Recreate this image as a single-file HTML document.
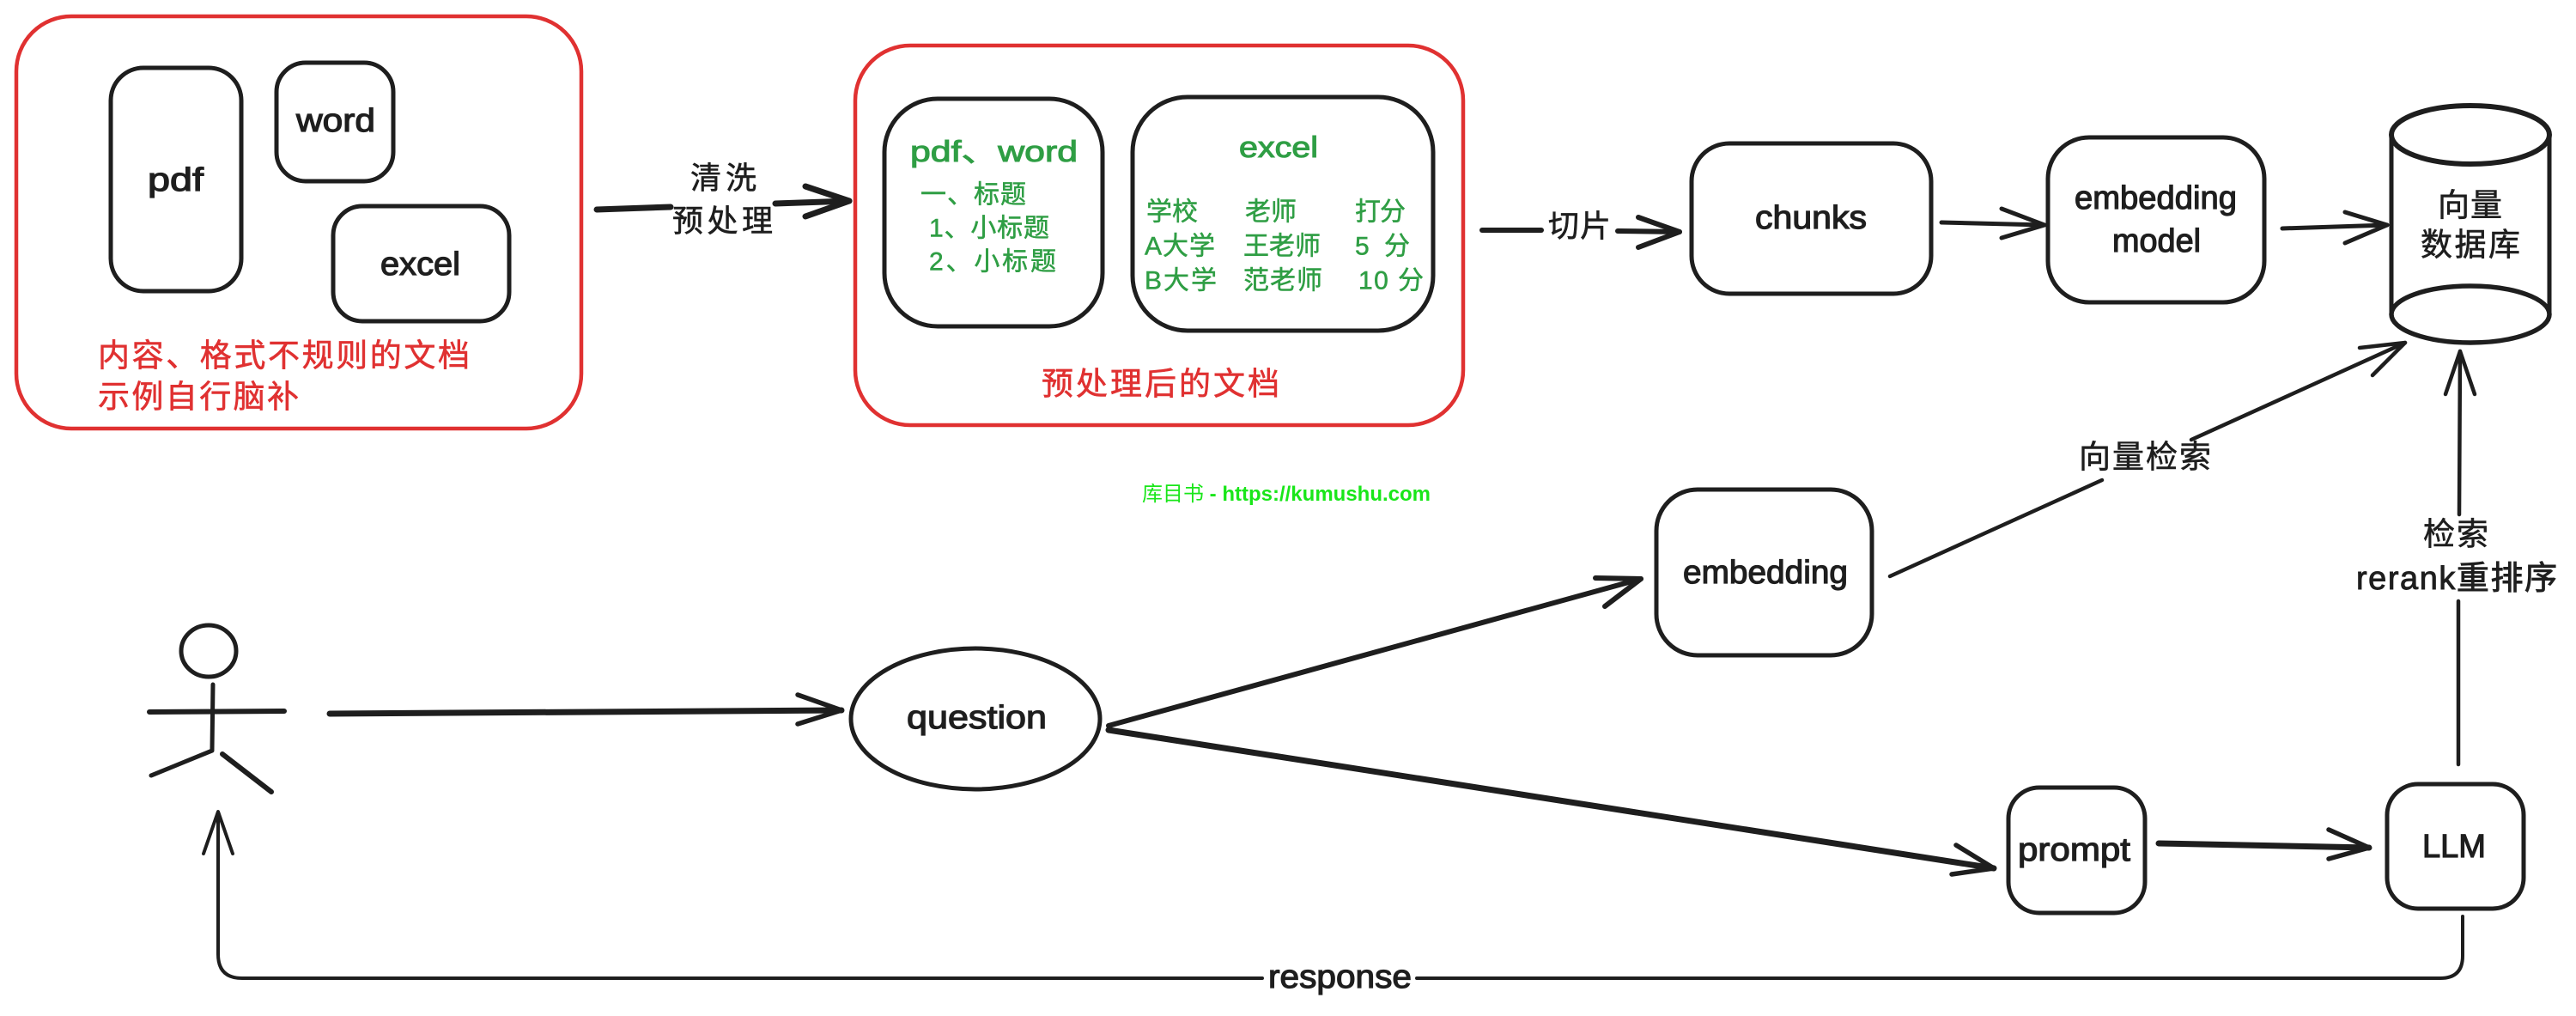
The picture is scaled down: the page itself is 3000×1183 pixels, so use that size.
<!DOCTYPE html>
<html><head><meta charset="utf-8">
<style>
html,body{margin:0;padding:0;background:#fff;}
svg{display:block;}
.lat{font-family:"Liberation Sans","Noto Sans CJK SC",sans-serif;}
.cjk{font-family:"Liberation Sans","Noto Sans CJK SC",sans-serif;}
</style></head>
<body>
<svg width="3000" height="1183" viewBox="0 0 3000 1183" xmlns="http://www.w3.org/2000/svg">
<rect x="0" y="0" width="3000" height="1183" fill="#ffffff"/>

<!-- LEFT RED GROUP -->
<rect x="19" y="19" width="658" height="480" rx="64" fill="none" stroke="#e03131" stroke-width="4.5"/>
<g fill="none" stroke="#1e1e1e" stroke-width="5" stroke-linecap="round" stroke-linejoin="round">
  <rect x="129" y="79" width="152" height="260" rx="38"/>
  <rect x="322" y="73" width="136" height="138" rx="34"/>
  <rect x="388" y="240" width="205" height="134" rx="34"/>
</g>
<g class="lat" fill="#1e1e1e" stroke="#1e1e1e" stroke-width="1.2" font-size="38">
  <text x="172" y="222" textLength="65" lengthAdjust="spacingAndGlyphs">pdf</text>
  <text x="345" y="153" textLength="92" lengthAdjust="spacingAndGlyphs">word</text>
  <text x="443" y="320" textLength="93" lengthAdjust="spacingAndGlyphs">excel</text>
</g>
<g class="cjk" fill="#e03131" stroke="#e03131" stroke-width="0.6" font-size="37" dominant-baseline="central">
  <text x="114" y="414" textLength="433">内容、格式不规则的文档</text>
  <text x="114" y="462" textLength="234">示例自行脑补</text>
</g>

<!-- 清洗 arrow -->
<g fill="none" stroke="#1e1e1e" stroke-width="7" stroke-linecap="round" stroke-linejoin="round">
  <path d="M695 244 L781 241"/>
  <path d="M903 237 L989 234"/>
  <path d="M938 217 L989 234 L938 252"/>
</g>
<g class="cjk" fill="#1e1e1e" stroke="#1e1e1e" stroke-width="0.6" font-size="36" dominant-baseline="central">
  <text x="804" y="207" textLength="77">清洗</text>
  <text x="783" y="257" textLength="117">预处理</text>
</g>

<!-- MIDDLE RED GROUP -->
<rect x="996" y="53" width="708" height="442" rx="64" fill="none" stroke="#e03131" stroke-width="4.5"/>
<g fill="none" stroke="#1e1e1e" stroke-width="5" stroke-linecap="round" stroke-linejoin="round">
  <rect x="1030" y="115" width="254" height="265" rx="62"/>
  <rect x="1319" y="113" width="350" height="272" rx="64"/>
</g>
<g class="lat" fill="#2f9e44" stroke="#2f9e44" stroke-width="1" font-size="34">
  <text x="1060" y="188" textLength="195" lengthAdjust="spacingAndGlyphs">pdf、word</text>
  <text x="1443" y="183" textLength="92" lengthAdjust="spacingAndGlyphs">excel</text>
</g>
<g class="cjk" fill="#2f9e44" stroke="#2f9e44" stroke-width="0.5" font-size="30" dominant-baseline="central">
  <text x="1072" y="227" textLength="123">一、标题</text>
  <text x="1082" y="266" textLength="140">1、小标题</text>
  <text x="1082" y="305" textLength="148">2、小标题</text>
  <text x="1335" y="247" textLength="60">学校</text>
  <text x="1450" y="247" textLength="60">老师</text>
  <text x="1578" y="247" textLength="59">打分</text>
  <text x="1333" y="287" textLength="82">A大学</text>
  <text x="1448" y="287" textLength="90">王老师</text>
  <text x="1578" y="287" textLength="64">5 分</text>
  <text x="1333" y="327" textLength="84">B大学</text>
  <text x="1448" y="327" textLength="92">范老师</text>
  <text x="1582" y="327" textLength="76">10 分</text>
</g>
<text class="cjk" x="1213" y="447" font-size="37" fill="#e03131" stroke="#e03131" stroke-width="0.6" dominant-baseline="central" textLength="277">预处理后的文档</text>

<!-- 切片 arrow -->
<g fill="none" stroke="#1e1e1e" stroke-width="6" stroke-linecap="round" stroke-linejoin="round">
  <path d="M1726 268 L1795 268"/>
  <path d="M1884 269 L1956 270"/>
  <path d="M1908 253 L1956 270 L1908 288"/>
</g>
<text class="cjk" x="1803" y="263" font-size="36" fill="#1e1e1e" stroke="#1e1e1e" stroke-width="0.6" dominant-baseline="central" textLength="73">切片</text>

<!-- chunks / embedding model / DB -->
<g fill="none" stroke="#1e1e1e" stroke-width="5" stroke-linecap="round" stroke-linejoin="round">
  <rect x="1970" y="167" width="279" height="175" rx="44"/>
  <rect x="2385" y="160" width="252" height="192" rx="48"/>
  <path d="M2261 259 L2381 262"/>
  <path d="M2331 243 L2381 262 L2331 277"/>
  <path d="M2658 266 L2780 262"/>
  <path d="M2731 247 L2780 262 L2731 283"/>
  <!-- cylinder -->
  <ellipse cx="2877" cy="157" rx="92" ry="34" stroke-width="6"/>
  <ellipse cx="2877" cy="366" rx="92" ry="33" stroke-width="5.5"/>
  <path d="M2785 157 L2785 366"/>
  <path d="M2969 157 L2969 366"/>
</g>
<g class="lat" fill="#1e1e1e" stroke="#1e1e1e" stroke-width="1.2" font-size="38">
  <text x="2044" y="266" textLength="130" lengthAdjust="spacingAndGlyphs">chunks</text>
  <text x="2416" y="243" textLength="189" lengthAdjust="spacingAndGlyphs">embedding</text>
  <text x="2460" y="293" textLength="103" lengthAdjust="spacingAndGlyphs">model</text>
</g>
<g class="cjk" fill="#1e1e1e" stroke="#1e1e1e" stroke-width="0.6" font-size="37" dominant-baseline="central">
  <text x="2839" y="239" textLength="75">向量</text>
  <text x="2819" y="285" textLength="116">数据库</text>
</g>

<!-- watermark -->
<text x="1330" y="575" font-size="24" dominant-baseline="central" fill="#19e619" font-family="Liberation Sans, Noto Sans CJK SC, sans-serif"><tspan>库目书</tspan><tspan font-weight="bold"> - https://kumushu.com</tspan></text>

<!-- lower embedding + 向量检索 line -->
<g fill="none" stroke="#1e1e1e" stroke-width="5" stroke-linecap="round" stroke-linejoin="round">
  <rect x="1929" y="570" width="251" height="193" rx="48"/>
  <path d="M2201 671 L2448 559" stroke-width="4.5"/>
  <path d="M2552 512 L2801 399" stroke-width="4.5"/>
  <path d="M2748 405 L2801 399 L2763 437" stroke-width="4.5"/>
  <!-- question -> embedding -->
  <path d="M1291 845 L1911 674" stroke-width="6"/>
  <path d="M1858 673 L1911 674 L1869 706" stroke-width="6"/>
</g>
<text class="cjk" x="2421" y="532" font-size="37" fill="#1e1e1e" stroke="#1e1e1e" stroke-width="0.6" dominant-baseline="central" textLength="154">向量检索</text>
<text class="lat" x="1960" y="679" font-size="38" fill="#1e1e1e" stroke="#1e1e1e" stroke-width="1.2" textLength="192" lengthAdjust="spacingAndGlyphs">embedding</text>

<!-- person -->
<g fill="none" stroke="#1e1e1e" stroke-width="5" stroke-linecap="round" stroke-linejoin="round">
  <ellipse cx="243" cy="758" rx="32" ry="30"/>
  <path d="M248 797 L247 873"/>
  <path d="M174 829 L331 828" stroke-width="6"/>
  <path d="M247 874 L176 903"/>
  <path d="M259 878 L316 922" stroke-width="6"/>
</g>

<!-- person -> question -->
<g fill="none" stroke="#1e1e1e" stroke-width="7" stroke-linecap="round" stroke-linejoin="round">
  <path d="M384 831 L980 827"/>
  <path d="M929 809 L980 827 L929 843" stroke-width="5.5"/>
</g>
<ellipse cx="1136" cy="837" rx="145" ry="82" fill="none" stroke="#1e1e1e" stroke-width="5"/>
<text class="lat" x="1056" y="848" font-size="38" fill="#1e1e1e" stroke="#1e1e1e" stroke-width="1.2" textLength="163" lengthAdjust="spacingAndGlyphs">question</text>

<!-- question -> prompt, prompt -> LLM -->
<g fill="none" stroke="#1e1e1e" stroke-width="7" stroke-linecap="round" stroke-linejoin="round">
  <path d="M1291 850 L2322 1011"/>
  <path d="M2278 984 L2322 1011 L2273 1018" stroke-width="5.5"/>
  <path d="M2514 982 L2759 987"/>
  <path d="M2712 966 L2759 987 L2712 1000" stroke-width="5.5"/>
</g>
<g fill="none" stroke="#1e1e1e" stroke-width="5" stroke-linecap="round" stroke-linejoin="round">
  <rect x="2339" y="917" width="159" height="146" rx="36"/>
  <rect x="2780" y="913" width="159" height="145" rx="36"/>
</g>
<g class="lat" fill="#1e1e1e" stroke="#1e1e1e" stroke-width="1.2" font-size="38">
  <text x="2350" y="1002" textLength="131" lengthAdjust="spacingAndGlyphs">prompt</text>
  <text x="2821" y="998" textLength="74" lengthAdjust="spacingAndGlyphs">LLM</text>
</g>

<!-- LLM -> DB vertical -->
<g fill="none" stroke="#1e1e1e" stroke-width="4.5" stroke-linecap="round" stroke-linejoin="round">
  <path d="M2863 890 L2863 700"/>
  <path d="M2864 599 L2865 409"/>
  <path d="M2848 459 L2865 409 L2882 459"/>
</g>
<text class="cjk" x="2822" y="622" font-size="37" fill="#1e1e1e" stroke="#1e1e1e" stroke-width="0.6" dominant-baseline="central" textLength="76">检索</text>
<text class="lat" x="2744" y="686" font-size="38" fill="#1e1e1e" stroke="#1e1e1e" stroke-width="0.9" textLength="234" lengthAdjust="spacing">rerank重排序</text>

<!-- response -->
<g fill="none" stroke="#1e1e1e" stroke-width="4" stroke-linecap="round" stroke-linejoin="round">
  <path d="M2868 1067 L2868 1113 Q2868 1139 2842 1139 L1650 1139"/>
  <path d="M1470 1139 L282 1139 Q254 1139 254 1111 L254 947"/>
  <path d="M237 994 L254 945 L271 994"/>
</g>
<text class="lat" x="1477" y="1150" font-size="38" fill="#1e1e1e" stroke="#1e1e1e" stroke-width="1.2" textLength="167" lengthAdjust="spacingAndGlyphs">response</text>
</svg>
</body></html>
